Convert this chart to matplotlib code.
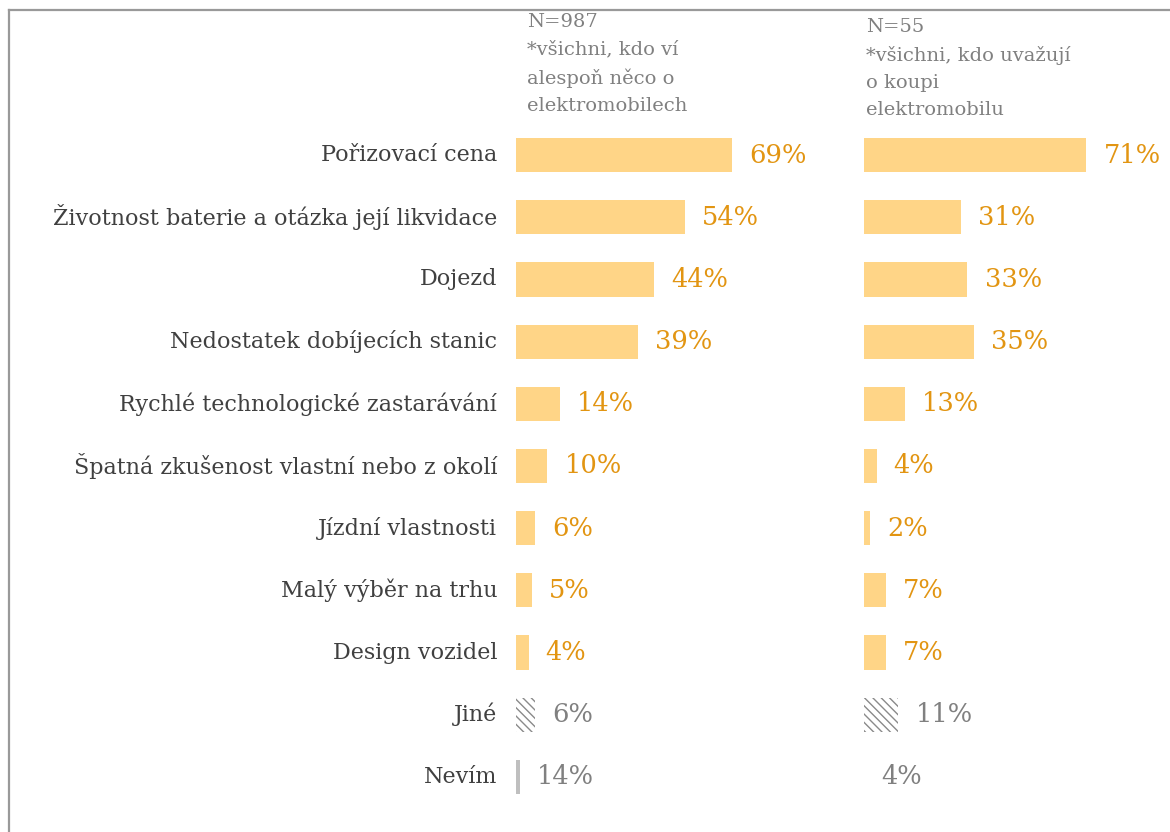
import numpy as np
import matplotlib
matplotlib.use('Agg')
import matplotlib.pyplot as plt
from matplotlib.lines import Line2D

# ─── Data ─────────────────────────────────────────────
categories = ['Pořizovací cena', 'Životnost baterie a otázka její likvidace',
              'Dojezd', 'Nedostatek dobíjecích stanic',
              'Rychlé technologické zastarávání',
              'Špatná zkušenost vlastní nebo z okolí', 'Jízdní vlastnosti',
              'Malý výběr na trhu', 'Design vozidel', 'Jiné', 'Nevím']
all_aware = [69, 54, 44, 39, 14, 10, 6, 5, 4, 6, 14]
considering = [71, 31, 33, 35, 13, 4, 2, 7, 7, 11, 4]
# bar length actually drawn for the "Nevím" row (as shown in the picture)
nevim_bar = [1.3, 0.0]

headers = ['N=987\n*všichni, kdo ví\nalespoň něco o\nelektromobilech',
           'N=55\n*všichni, kdo uvažují\no koupi\nelektromobilu']

BAR = '#FFD587'
PCT = '#E29512'
GREY = '#808080'
TXT = '#404040'
FONT = 'DejaVu Serif'

W, H = 1170, 832
fig = plt.figure(figsize=(W / 100, H / 100), dpi=100)
plt.rcParams['font.family'] = FONT

PX_PER_PCT = 3.13
row_top, row_bot = 124, 808
panels = [(516, 845, all_aware, 0), (864, 1170, considering, 1)]
n = len(categories)

for x0, x1, vals, k in panels:
    ax = fig.add_axes([x0 / W, 1 - row_bot / H, (x1 - x0) / W,
                       (row_bot - row_top) / H])
    ax.set_xlim(0, (x1 - x0) / PX_PER_PCT)
    ax.set_ylim(n - 0.5, -0.5)
    ax.axis('off')
    for i, v in enumerate(vals):
        cat = categories[i]
        if cat == 'Jiné':
            ax.barh(i, v, height=0.55, color='white',
                    edgecolor='#8a8a8a', hatch='\\\\\\\\', lw=0)
            col = GREY
        elif cat == 'Nevím':
            ax.barh(i, nevim_bar[k], height=0.55, color='#BFBFBF', lw=0)
            col = GREY
        else:
            ax.barh(i, v, height=0.55, color=BAR, lw=0)
            col = PCT
        length = nevim_bar[k] if cat == 'Nevím' else v
        ax.text(length + 5.5, i, f'{v}%', color=col, fontsize=18.5,
                va='center', ha='left')
    if k == 0:
        for i, c in enumerate(categories):
            ax.text(-6, i, c, ha='right', va='center', fontsize=16,
                    color=TXT)

fig.text(527 / W, 1 - 13 / H, headers[0], ha='left', va='top', fontsize=14,
         color=GREY, linespacing=1.66)
fig.text(866 / W, 1 - 18 / H, headers[1], ha='left', va='top', fontsize=14,
         color=GREY, linespacing=1.66)

# frame lines (top and left)
fig.add_artist(Line2D([9 / W, 1], [1 - 10 / H, 1 - 10 / H], color='#999999',
                      lw=1.6, transform=fig.transFigure))
fig.add_artist(Line2D([9 / W, 9 / W], [0, 1 - 10 / H], color='#999999',
                      lw=1.6, transform=fig.transFigure))

fig.savefig('out.png', dpi=100)
